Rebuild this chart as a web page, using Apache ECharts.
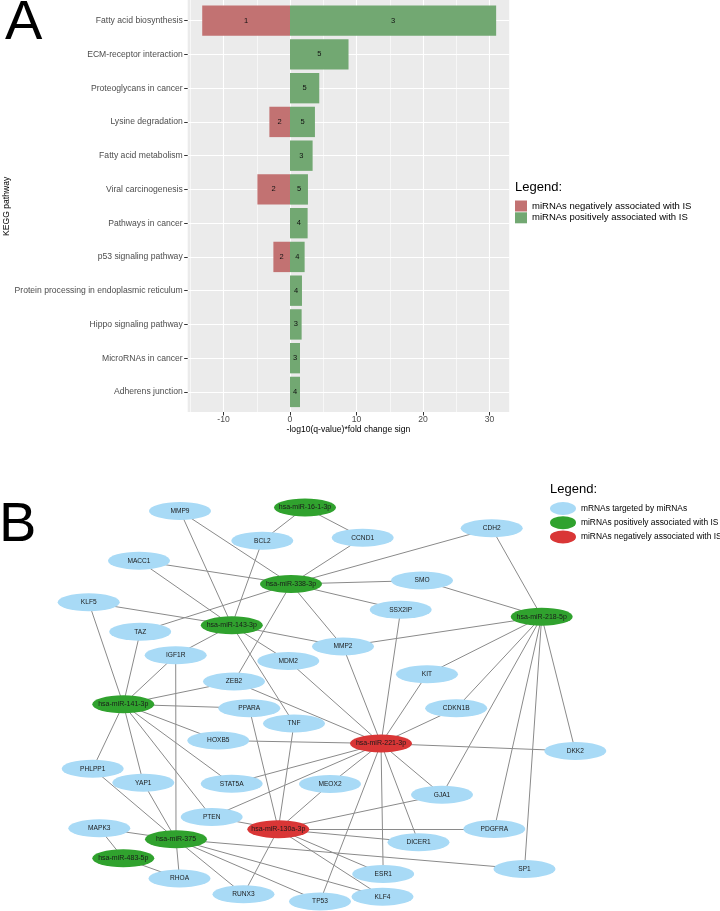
<!DOCTYPE html>
<html><head><meta charset="utf-8">
<script src="https://cdn.jsdelivr.net/npm/echarts@6/dist/echarts.min.js"></script>
<style>html,body{margin:0;padding:0;background:#fff}#c{width:720px;height:911px}</style>
</head><body><div id="c"></div>
<script>
// ---------- Panel A data ----------
const pathways = ['Fatty acid biosynthesis','ECM-receptor interaction','Proteoglycans in cancer','Lysine degradation','Fatty acid metabolism','Viral carcinogenesis','Pathways in cancer','p53 signaling pathway','Protein processing in endoplasmic reticulum','Hippo signaling pathway','MicroRNAs in cancer','Adherens junction'];
const negValues = [-13.2, '-', '-', -3.1, '-', -4.9, '-', -2.5, '-', '-', '-', '-'];
const negCounts = [1, '', '', 2, '', 2, '', 2, '', '', '', ''];
const posValues = [31.0, 8.8, 4.4, 3.75, 3.4, 2.7, 2.65, 2.2, 1.8, 1.75, 1.5, 1.5];
const posCounts = [3, 5, 5, 5, 3, 5, 4, 4, 4, 3, 3, 4];
const xMajor = {min: -10, max: 30, step: 10};
const xMinor = {min: -15, max: 25, step: 10};
const xRange = {min: -15, max: 33};
const legendA = {negA: 'miRNAs negatively associated with IS', posA: 'miRNAs positively associated with IS'};

// ---------- Panel B data ----------
const mrnas = ['MMP9','BCL2','CCND1','CDH2','MACC1','SMO','KLF5','SSX2IP','TAZ','MMP2','IGF1R','MDM2','KIT','ZEB2','PPARA','TNF','CDKN1B','HOXB5','DKK2','PHLPP1','YAP1','STAT5A','MEOX2','GJA1','PTEN','MAPK3','PDGFRA','DICER1','SP1','RHOA','ESR1','RUNX3','KLF4','TP53'];
const posMirnas = ['hsa-miR-16-1-3p','hsa-miR-338-3p','hsa-miR-143-3p','hsa-miR-218-5p','hsa-miR-141-3p','hsa-miR-375','hsa-miR-483-5p'];
const negMirnas = ['hsa-miR-221-3p','hsa-miR-130a-3p'];
const nodePos = {
  'MMP9':[180,41], 'hsa-miR-16-1-3p':[305,37.5], 'BCL2':[262.3,70.7], 'CCND1':[362.7,67.7], 'CDH2':[491.7,58.3],
  'MACC1':[139,90.7], 'hsa-miR-338-3p':[291,114], 'SMO':[422,110.5], 'KLF5':[88.7,132.3], 'SSX2IP':[400.7,139.8],
  'hsa-miR-218-5p':[541.7,146.7], 'TAZ':[140.2,161.8], 'hsa-miR-143-3p':[231.8,155.3], 'MMP2':[343,176.5],
  'IGF1R':[175.7,185.3], 'MDM2':[288.3,191], 'KIT':[427,204.3], 'ZEB2':[234,211.5], 'hsa-miR-141-3p':[123.3,234.3],
  'PPARA':[249.3,238.2], 'TNF':[294,253.5], 'CDKN1B':[456.2,238.3], 'HOXB5':[218.3,270.5], 'hsa-miR-221-3p':[381,273.5],
  'DKK2':[575.3,281], 'PHLPP1':[92.7,298.7], 'YAP1':[143.3,312.7], 'STAT5A':[231.7,313.7], 'MEOX2':[330,314],
  'GJA1':[442,324.7], 'PTEN':[211.7,347], 'hsa-miR-130a-3p':[278.3,359.2], 'MAPK3':[99.3,358.3], 'hsa-miR-375':[176,369.3],
  'PDGFRA':[494.3,359], 'DICER1':[418.5,372.3], 'hsa-miR-483-5p':[123.3,388.3], 'SP1':[524.5,399], 'RHOA':[179.5,408.5],
  'ESR1':[383.2,404], 'RUNX3':[243.5,424.3], 'KLF4':[382.5,426.7], 'TP53':[320,431.5]
};
const targets = {
  'hsa-miR-16-1-3p': ['BCL2','CCND1'],
  'hsa-miR-338-3p': ['MMP9','CCND1','CDH2','MACC1','SMO','SSX2IP','TAZ','MMP2','ZEB2'],
  'hsa-miR-143-3p': ['MMP9','BCL2','MACC1','KLF5','IGF1R','MMP2','MDM2','TNF'],
  'hsa-miR-218-5p': ['CDH2','SMO','MMP2','KIT','CDKN1B','GJA1','PDGFRA','SP1','DKK2'],
  'hsa-miR-141-3p': ['KLF5','TAZ','IGF1R','ZEB2','PPARA','HOXB5','STAT5A','PTEN','YAP1','PHLPP1'],
  'hsa-miR-375': ['IGF1R','PHLPP1','YAP1','MAPK3','RHOA','RUNX3','TP53','KLF4','SP1'],
  'hsa-miR-483-5p': ['MAPK3','RHOA'],
  'hsa-miR-130a-3p': ['PPARA','TNF','MEOX2','PTEN','GJA1','PDGFRA','DICER1','ESR1','KLF4','RUNX3'],
  'hsa-miR-221-3p': ['ZEB2','MDM2','MMP2','SSX2IP','KIT','CDKN1B','HOXB5','DKK2','STAT5A','PTEN','MEOX2','TP53','ESR1','DICER1','GJA1']
};
const legendB = {mRNA: 'mRNAs targeted by miRNAs', pos: 'miRNAs positively associated with IS', neg: 'miRNAs negatively associated with IS'};

// ---------- build ----------
const FONT = 'Liberation Sans, Arial, Helvetica, sans-serif';
const ELLIPSE = 'path://M0,50A100,50 0 1,1 200,50A100,50 0 1,1 0,50Z';
const catIndex = n => posMirnas.includes(n) ? 1 : (negMirnas.includes(n) ? 2 : 0);
const nodes = [...mrnas, ...posMirnas, ...negMirnas].map(n => {
  const c = catIndex(n);
  return {name: n, value: nodePos[n], category: c, label: {fontSize: c === 0 ? 6.6 : 7}};
});
const links = [];
Object.keys(targets).forEach(m => targets[m].forEach(t => links.push({source: m, target: t})));

const hiddenAxis = (gi, extra) => Object.assign({gridIndex: gi, type: 'value', show: false}, extra || {});
const white = '#ffffff';

const option = {
  animation: false,
  textStyle: {fontFamily: FONT},
  title: [
    {text: 'A', left: 5, top: -4, padding: 0, textStyle: {fontSize: 56, fontWeight: 'normal', color: '#000', fontFamily: FONT}},
    {text: 'B', left: -1, top: 497.5, padding: 0, textStyle: {fontSize: 56, fontWeight: 'normal', color: '#000', fontFamily: FONT}},
    {text: 'Legend:', left: 515, top: 180.6, padding: 0, textStyle: {fontSize: 13, fontWeight: 'normal', color: '#000', fontFamily: FONT}},
    {text: 'Legend:', left: 550, top: 483.3, padding: 0, textStyle: {fontSize: 13, fontWeight: 'normal', color: '#000', fontFamily: FONT}}
  ],
  legend: [
    {data: ['negA', 'posA'], left: 515, top: 200.5, orient: 'vertical', padding: 0, icon: 'rect',
     itemWidth: 12, itemHeight: 11, itemGap: 0.8, selectedMode: false,
     formatter: n => legendA[n], textStyle: {fontSize: 9.5, color: '#000', fontFamily: FONT}},
    {data: ['mRNA', 'pos', 'neg'], left: 550, top: 502, orient: 'vertical', padding: 0, icon: ELLIPSE,
     itemWidth: 26, itemHeight: 16, itemGap: 1.2, selectedMode: false,
     formatter: n => legendB[n], textStyle: {fontSize: 8.4, color: '#000', fontFamily: FONT}}
  ],
  grid: [
    {left: 187.7, top: 0, width: 321.5, height: 412, show: true, backgroundColor: '#ebebeb', borderWidth: 0},
    {left: 190.25, top: 0, width: 266, height: 412},
    {left: 223.5, top: 0, width: 266, height: 412},
    {left: 187.7, top: 20.7, width: 321.5, height: 371.3},
    {left: 190.25, top: 3.8, width: 319.2, height: 405},
    {left: 0, top: 470, width: 720, height: 441}
  ],
  xAxis: [
    {gridIndex: 0, type: 'value', min: 0, max: 1, axisLine: {show: false}, axisTick: {show: false}, axisLabel: {show: false}, splitLine: {show: false},
     name: '-log10(q-value)*fold change sign', nameLocation: 'middle', nameGap: 13, nameTextStyle: {fontSize: 8.6, color: '#000', fontFamily: FONT}},
    {gridIndex: 1, type: 'value', min: xMinor.min, max: xMinor.max, interval: xMinor.step, axisLine: {show: false}, axisTick: {show: false}, axisLabel: {show: false},
     splitLine: {show: true, lineStyle: {color: white, width: 0.6}}},
    {gridIndex: 2, type: 'value', min: xMajor.min, max: xMajor.max, interval: xMajor.step, axisLine: {show: false},
     axisTick: {show: true, length: 3.5, lineStyle: {color: '#333', width: 1}},
     axisLabel: {show: true, margin: 3, fontSize: 8.6, color: '#4d4d4d', fontFamily: FONT},
     splitLine: {show: true, lineStyle: {color: white, width: 1.1}}},
    hiddenAxis(3),
    hiddenAxis(4, {min: xRange.min, max: xRange.max}),
    hiddenAxis(5, {min: 0, max: 720})
  ],
  yAxis: [
    hiddenAxis(0, {min: 0, max: 1}),
    hiddenAxis(1, {min: 0, max: 1}),
    hiddenAxis(2, {min: 0, max: 1}),
    {gridIndex: 3, type: 'category', data: pathways, inverse: true, boundaryGap: false,
     axisLine: {show: false},
     axisTick: {show: true, length: 3.5, interval: 0, lineStyle: {color: '#333', width: 1}},
     axisLabel: {show: true, interval: 0, margin: 5, fontSize: 8.6, color: '#4d4d4d', fontFamily: FONT},
     splitLine: {show: true, interval: 0, lineStyle: {color: white, width: 1.1}},
     name: 'KEGG pathway', nameLocation: 'middle', nameGap: 176, nameTextStyle: {fontSize: 8.6, color: '#000', fontFamily: FONT}},
    {gridIndex: 4, type: 'category', data: pathways, inverse: true, show: false},
    hiddenAxis(5, {min: 0, max: 441, inverse: true})
  ],
  series: [
    {name: 'negA', type: 'bar', xAxisIndex: 4, yAxisIndex: 4, data: negValues, barWidth: '90%', barGap: '-100%',
     itemStyle: {color: '#c27272'}, silent: true,
     label: {show: true, position: 'inside', formatter: p => negCounts[p.dataIndex], fontSize: 7.5, color: '#111', fontFamily: FONT}},
    {name: 'posA', type: 'bar', xAxisIndex: 4, yAxisIndex: 4, data: posValues, barWidth: '90%', barGap: '-100%',
     itemStyle: {color: '#72a872'}, silent: true,
     label: {show: true, position: 'inside', formatter: p => posCounts[p.dataIndex], fontSize: 7.5, color: '#111', fontFamily: FONT}},
    {type: 'graph', coordinateSystem: 'cartesian2d', xAxisIndex: 5, yAxisIndex: 5, layout: 'none',
     symbol: ELLIPSE, symbolSize: [62, 18], silent: true, roam: false,
     categories: [
       {name: 'mRNA', itemStyle: {color: '#a8daf6'}},
       {name: 'pos', itemStyle: {color: '#30a22e'}},
       {name: 'neg', itemStyle: {color: '#d93636'}}
     ],
     data: nodes, links: links,
     lineStyle: {color: '#8a8a8a', width: 1, opacity: 1, curveness: 0},
     label: {show: true, position: 'inside', color: '#1a1a1a', fontFamily: FONT},
     emphasis: {disabled: true}}
  ]
};
const chart = echarts.init(document.getElementById('c'), null, {renderer: 'canvas'});
chart.setOption(option);
</script></body></html>
